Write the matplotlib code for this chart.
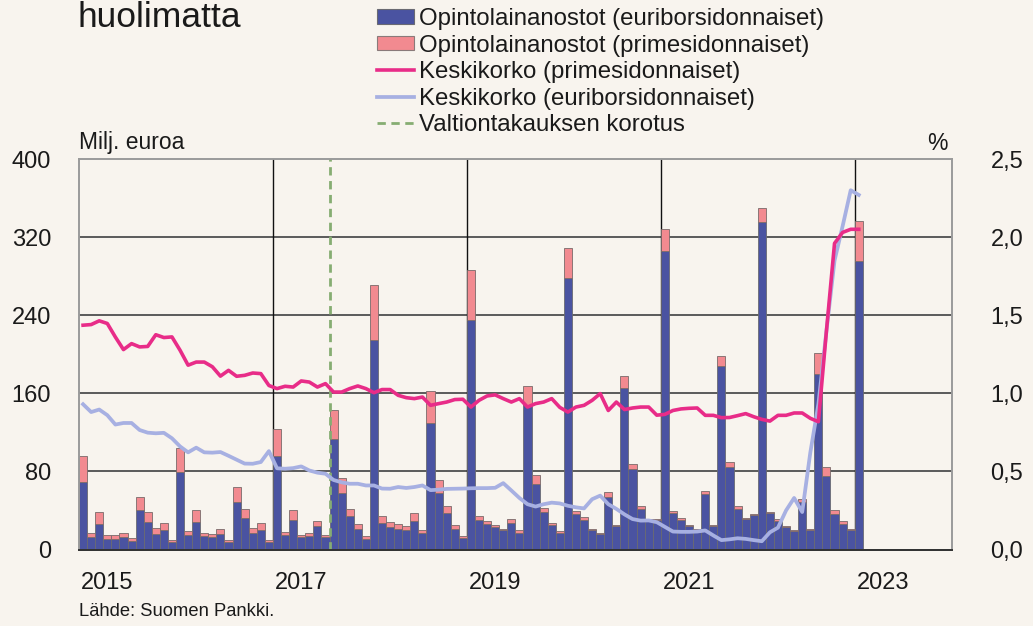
import matplotlib
matplotlib.use("Agg")
import matplotlib.pyplot as plt
from matplotlib.patches import Patch
from matplotlib.lines import Line2D
import numpy as np
import pandas as pd

plt.rcParams['font.family'] = ['Liberation Sans', 'DejaVu Sans']

# Monthly data, Jan 2015 .. Jan 2023
months = pd.date_range("2015-01-01", periods=97, freq="MS")

euribor_loans = [69, 13, 26, 11, 11, 13, 9, 40, 28, 16, 19.5, 7.5,
                 79, 15, 28, 13.6, 12.6, 16, 8, 49, 32.5, 17, 19.5, 8,
                 96, 15, 30, 12.6, 14, 24, 13, 113, 58, 34, 21, 11,
                 215, 27, 23, 21, 19.5, 29, 16.7, 130, 58, 37, 21, 12,
                 235, 30, 26, 23, 19.5, 27, 17, 148, 67, 38, 24.6, 17,
                 278, 36, 30, 20, 16, 54, 24, 165, 82, 42, 30, 30.5,
                 306, 37, 30.4, 24, 20, 56.4, 23.6, 188, 85, 42, 31.4, 35,
                 335, 37, 29.7, 23, 19, 48.5, 19.5, 180, 75, 36, 26.3, 19.5,
                 296]
prime_loans = [27, 4, 12, 4, 4, 4, 3, 14, 10, 6, 7.5, 2.5,
               25, 4, 12, 3.4, 3.4, 4.5, 2, 15, 8.5, 5, 7.5, 2,
               27, 3, 10, 2.4, 3, 5, 2, 30, 15, 8, 5, 3,
               56, 7, 5, 5, 4.5, 8, 3.3, 32, 13, 8, 4, 2,
               51, 4, 3, 2, 1.5, 4, 2.5, 19, 9, 5, 2.4, 2,
               31, 3, 3, 1, 1, 5, 0.6, 13, 6, 3, 1, 0.5,
               22, 2, 2.1, 1.6, 0.5, 3.6, 1, 10, 4.5, 2.6, 1.1, 1,
               15, 1, 1.7, 0.6, 0.5, 3.5, 1.5, 21, 9, 4, 2.7, 1.5,
               41]
rate_prime = [1.436, 1.44, 1.464, 1.447, 1.36, 1.28, 1.318, 1.297, 1.30, 1.375, 1.357, 1.361,
              1.276, 1.18, 1.20, 1.20, 1.17, 1.11, 1.147, 1.109, 1.115, 1.13, 1.126, 1.05,
              1.03, 1.045, 1.04, 1.079, 1.072, 1.04, 1.062, 1.008, 1.008, 1.03, 1.047, 1.03,
              1.004, 1.024, 1.024, 0.987, 0.972, 0.966, 0.976, 0.923, 0.934, 0.944, 0.96, 0.962,
              0.912, 0.955, 0.983, 0.99, 0.966, 0.944, 0.966, 0.912, 0.934, 0.944, 0.966, 0.91,
              0.88, 0.912, 0.923, 0.955, 0.998, 0.89, 0.944, 0.896, 0.906, 0.912, 0.912, 0.86,
              0.865, 0.89, 0.90, 0.904, 0.906, 0.859, 0.859, 0.844, 0.845, 0.857, 0.87, 0.85,
              0.833, 0.822, 0.859, 0.859, 0.874, 0.874, 0.84, 0.818, 1.40, 1.96, 2.03, 2.05,
              2.05]
rate_euribor = [0.93, 0.88, 0.896, 0.86, 0.80, 0.81, 0.81, 0.765, 0.748, 0.744, 0.747, 0.712,
                0.66, 0.622, 0.652, 0.622, 0.62, 0.624, 0.60, 0.575, 0.55, 0.549, 0.56, 0.63,
                0.52, 0.517, 0.521, 0.532, 0.506, 0.492, 0.485, 0.445, 0.43, 0.421, 0.421, 0.41,
                0.41, 0.39, 0.389, 0.40, 0.394, 0.40, 0.41, 0.38, 0.383, 0.388, 0.389, 0.39,
                0.392, 0.393, 0.393, 0.395, 0.425, 0.378, 0.33, 0.29, 0.275, 0.29, 0.30, 0.295,
                0.28, 0.27, 0.263, 0.322, 0.345, 0.29, 0.26, 0.225, 0.195, 0.185, 0.186, 0.175,
                0.145, 0.115, 0.113, 0.113, 0.115, 0.122, 0.09, 0.06, 0.065, 0.072, 0.068, 0.06,
                0.053, 0.11, 0.14, 0.25, 0.33, 0.24, 0.62, 0.93, 1.40, 1.85, 2.07, 2.30,
                2.27]
guarantee_date = pd.Timestamp("2017-08-01")
year_labels = ["2015", "2017", "2019", "2021", "2023"]

def frac_year(ts):
    return ts.year + (ts.month - 1) / 12.0

x = np.array([frac_year(m) for m in months]) + 0.5 / 12
xg = frac_year(guarantee_date)

BG = "#f8f4ee"
BLUE = "#4a53a1"
PINK = "#f28a90"
PINKLINE = "#e82c88"
LBLUE = "#a7b0e2"
GREEN = "#86ad72"

fig = plt.figure(figsize=(10.33, 6.26), dpi=100, facecolor=BG)
ax = fig.add_axes([0.0765, 0.1222, 0.8448, 0.6238])
ax.set_facecolor(BG)
ax.set_xlim(2015, 2024)
ax.set_ylim(0, 400)
ax.set_yticks([0, 80, 160, 240, 320, 400])
ax.set_xticks([])
for yv in [80, 160, 240, 320]:
    ax.axhline(yv, color="#5a5a5a", lw=1.4, zorder=1)
for yr in [2017, 2019, 2021, 2023]:
    ax.axvline(yr, color="#111111", lw=1.0, zorder=1)

ax.bar(x, euribor_loans, width=1 / 12, color=BLUE, edgecolor="#6a6a72", linewidth=0.6, zorder=2)
ax.bar(x, prime_loans, bottom=euribor_loans, width=1 / 12, color=PINK, edgecolor="#7a6a6a",
       linewidth=0.6, zorder=2)
ax.axvline(xg, color=GREEN, lw=2.0, ls=(0, (3, 2)), zorder=3)

ax2 = ax.twinx()
ax2.set_ylim(0, 2.5)
ax2.set_yticks([0, 0.5, 1.0, 1.5, 2.0, 2.5])
ax2.set_yticklabels(["0,0", "0,5", "1,0", "1,5", "2,0", "2,5"])
ax2.plot(x, rate_euribor, color=LBLUE, lw=2.7, zorder=4, solid_joinstyle="round")
ax2.plot(x, rate_prime, color=PINKLINE, lw=2.6, zorder=5, solid_joinstyle="round")

for a in (ax, ax2):
    for s in ["left", "right", "top"]:
        a.spines[s].set_color("#9a9a9a")
        a.spines[s].set_linewidth(1.2)
    a.spines["bottom"].set_color("#333333")
    a.spines["bottom"].set_linewidth(1.4)
    a.tick_params(axis="y", length=0, labelsize=17, colors="#1a1a1a")
ax.tick_params(axis="y", pad=20)
ax2.tick_params(axis="y", pad=28)
ax2.set_xticks([])

for yr, lab in zip([2015, 2017, 2019, 2021, 2023], year_labels):
    ax.text(yr + 0.02, -0.058, lab, transform=ax.get_xaxis_transform(), ha="left", va="top",
            fontsize=17, color="#1a1a1a")

fig.text(79 / 1033, 1 - 143 / 626, "Milj. euroa", fontsize=16.5, ha="left", va="center", color="#1a1a1a")
fig.text(948 / 1033, 1 - 143 / 626, "%", fontsize=16.5, ha="right", va="center", color="#1a1a1a")
fig.text(79 / 1033, 1 - 612 / 626, "Lähde: Suomen Pankki.", fontsize=13.2, ha="left", va="center",
         color="#1a1a1a")
fig.text(78 / 1033, 1 - 27 / 626, "huolimatta", fontsize=25.5, ha="left", va="baseline", color="#1a1a1a")

handles = [
    Patch(facecolor=BLUE, edgecolor="#6a6a72", linewidth=0.8),
    Patch(facecolor=PINK, edgecolor="#8a7a7a", linewidth=0.8),
    Line2D([], [], color=PINKLINE, lw=2.6),
    Line2D([], [], color=LBLUE, lw=2.7),
    Line2D([], [], color=GREEN, lw=2.0, ls=(0, (3, 2))),
]
labels = ["Opintolainanostot (euriborsidonnaiset)", "Opintolainanostot (primesidonnaiset)",
          "Keskikorko (primesidonnaiset)", "Keskikorko (euriborsidonnaiset)",
          "Valtiontakauksen korotus"]
fig.legend(handles, labels, loc="upper left", bbox_to_anchor=(377 / 1033, 1 - 8 / 626),
           frameon=False, fontsize=17.3, handlelength=1.55, handleheight=0.55, handletextpad=0.2,
           labelspacing=0.19, borderpad=0, borderaxespad=0, labelcolor="#1a1a1a")

fig.savefig("out.png", dpi=100, facecolor=BG)
